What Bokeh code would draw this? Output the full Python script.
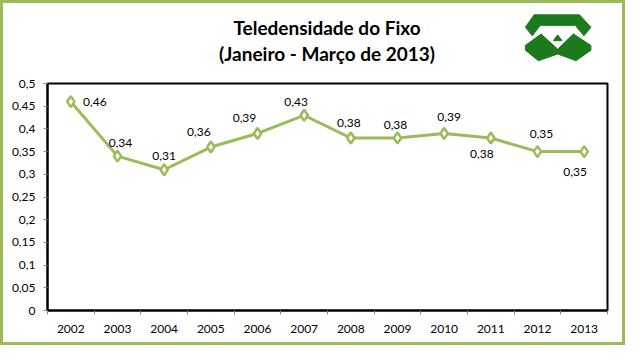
from bokeh.plotting import figure
from bokeh.layouts import column
from bokeh.models import (ColumnDataSource, FixedTicker, CustomJSTickFormatter,
                          LabelSet, Range1d)
from bokeh.core.properties import value
from bokeh.embed import file_html
from bokeh.resources import INLINE

# ---- data ----
years = ["2002", "2003", "2004", "2005", "2006", "2007",
         "2008", "2009", "2010", "2011", "2012", "2013"]
values = [0.46, 0.34, 0.31, 0.36, 0.39, 0.43, 0.38, 0.38, 0.39, 0.38, 0.35, 0.35]
y_ticks = [0, 0.05, 0.1, 0.15, 0.2, 0.25, 0.3, 0.35, 0.4, 0.45, 0.5]
title_lines = ["Teledensidade do Fixo", "(Janeiro - Março de 2013)"]

# label placement (pixels), style only
lab_dx = [24, 3, 0, -12, -13, -8, -2, -2, 5, -9, 4, -9]
lab_dy = [0, 13, 14, 15, 15, 13, 15, 13, 16, -16, 18, -20]

FONT = "Lato"
GREEN = "#9bbb59"
W, H = 625, 345
FX, FY = W / 641, H / 361
TOP_H = 75

# ---------------- header: title + logo ----------------
head = figure(width=W, height=TOP_H, output_backend="svg", toolbar_location=None,
              x_range=Range1d(0, W), y_range=Range1d(TOP_H, 0),
              min_border=0, x_axis_type=None, y_axis_type=None)
head.outline_line_color = None
head.xgrid.visible = False
head.ygrid.visible = False
head.background_fill_alpha = 0
head.border_fill_alpha = 0
head.text(x=[312, 312], y=[27, 53], text=title_lines, text_font=value(FONT),
          text_font_size="19px", text_font_style="bold", text_color="black",
          text_align="center", text_baseline="middle")

# decorative logo outline (reference pixels, scaled to canvas)
logo_green = "#1b7a1b"
logo_parts = [
    ([557, 609, 622, 614, 604, 564, 555, 547], [15, 15, 28, 37, 26, 26, 37, 28]),
    ([547, 565, 584, 602, 622, 622, 605, 584, 562, 547],
     [47, 35, 51, 35, 47, 52, 63, 56, 63, 52]),
    ([584, 579, 589], [36, 42, 42]),
]
head.patches(xs=[[v * FX for v in xx] for xx, _ in logo_parts],
             ys=[[v * FY for v in yy] for _, yy in logo_parts],
             fill_color=logo_green, line_color=logo_green, line_width=1)

# ---------------- main chart ----------------
xs = [i + 0.5 for i in range(len(years))]
labels = [f"{v:.2f}".replace(".", ",") for v in values]
src = ColumnDataSource(dict(x=xs, y=values, lab=labels, dx=lab_dx, dy=lab_dy))

p = figure(width=W, height=H - TOP_H, output_backend="svg", toolbar_location=None,
           x_range=Range1d(0, len(years)), y_range=Range1d(0, 0.5),
           min_border_left=47, min_border_right=18, min_border_top=8,
           min_border_bottom=35)
p.outline_line_color = "black"
p.outline_line_width = 2
p.xgrid.visible = False
p.ygrid.visible = False
p.background_fill_color = "white"
p.border_fill_alpha = 0

p.line("x", "y", source=src, line_color=GREEN, line_width=3)
p.scatter("x", "y", source=src, marker="diamond", size=11, fill_color="white",
          line_color=GREEN, line_width=2.5)

ls = LabelSet(x="x", y="y", text="lab", source=src, x_offset="dx", y_offset="dy",
              text_align="center", text_baseline="middle", text_font=value(FONT),
              text_font_size="12px", text_color="black")
p.add_layout(ls)

p.yaxis.ticker = FixedTicker(ticks=y_ticks)
p.yaxis.formatter = CustomJSTickFormatter(code="""
var s = tick.toFixed(2).replace(/0+$/, '').replace(/\\.$/, '');
return s.replace('.', ',');""")
p.xaxis.ticker = FixedTicker(ticks=xs, minor_ticks=list(range(len(years) + 1)))
p.xaxis.formatter = CustomJSTickFormatter(args=dict(labels=years),
                                          code="return labels[Math.floor(tick)];")
p.xaxis.major_tick_line_color = None
p.xaxis.minor_tick_line_color = "#868686"
p.xaxis.minor_tick_in = 0
p.xaxis.minor_tick_out = 4
p.yaxis.minor_tick_line_color = None
p.yaxis.major_tick_line_color = "#868686"
p.yaxis.major_tick_in = 0
p.yaxis.major_tick_out = 4
for ax in (p.xaxis, p.yaxis):
    ax.axis_line_color = "black"
    ax.axis_line_width = 2
    ax.major_label_text_font = FONT
    ax.major_label_text_font_size = "12px"
    ax.major_label_text_color = "black"
    ax.major_label_standoff = 8

layout = column(head, p, spacing=0,
                styles={"box-shadow": f"inset 0 0 0 3px {GREEN}",
                        "background-color": "white"})

open("out.html", "w").write(file_html(layout, INLINE))
